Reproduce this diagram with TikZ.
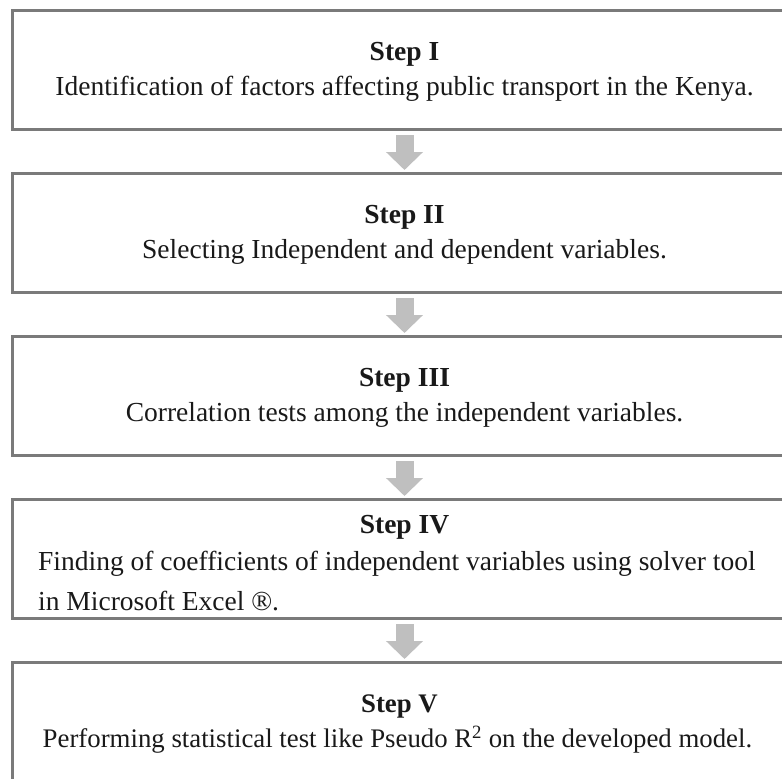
\documentclass[tikz,border=0pt]{standalone}
\usepackage{fontspec}
\setmainfont{Liberation Serif}
\usetikzlibrary{arrows.meta}
\definecolor{boxgray}{HTML}{7A7A7A}
\definecolor{arrowgray}{HTML}{BFBFBF}
\tikzset{
  stepbox/.style={draw=boxgray, line width=3bp, minimum width=784bp, minimum height=119bp, inner sep=0pt, anchor=north west},
  ttl/.style={anchor=base, font=\fontsize{27.5bp}{33bp}\selectfont\bfseries, inner sep=0pt, text=black!90},
  bodytxt/.style={anchor=base, font=\fontsize{27.5bp}{33bp}\selectfont, inner sep=0pt, text=black!90},
  flow/.style={line width=18bp, draw=arrowgray, fill=arrowgray, -{Triangle[width=36bp,length=18bp]}}
}
\begin{document}
\begin{tikzpicture}[x=1bp,y=-1bp]
\useasboundingbox (0,0) rectangle (782,779);
\clip (0,0) rectangle (782,779);
\node[stepbox] (b1) at (11,9) {};
\node[stepbox] (b2) at (11,172) {};
\node[stepbox] (b3) at (11,335) {};
\node[stepbox] (b4) at (11,498) {};
\node[stepbox, minimum height=140bp] (b5) at (11,661) {};

\node[ttl] (t1) at ([yshift=-51bp]b1.north) {Step I};
\node[bodytxt] (s1) at ([yshift=-86bp]b1.north) {Identification of factors affecting public transport in the Kenya.};
\node[ttl] (t2) at ([yshift=-51bp]b2.north) {Step II};
\node[bodytxt] (s2) at ([yshift=-86bp]b2.north) {Selecting Independent and dependent variables.};
\node[ttl] (t3) at ([yshift=-51bp]b3.north) {Step III};
\node[bodytxt] (s3) at ([yshift=-86bp]b3.north) {Correlation tests among the independent variables.};
\node[ttl] (t4) at ([yshift=-35bp]b4.north) {Step IV};
\node[bodytxt, anchor=base west] (s4a) at (38,570) {Finding of coefficients of independent variables using solver tool};
\node[bodytxt, anchor=base west] (s4b) at (38,610) {in Microsoft Excel ®.};
\node[ttl, font=\fontsize{26.8bp}{33bp}\selectfont\bfseries] (t5) at ([xshift=-5bp,yshift=-51bp]b5.north) {Step V};
\node[bodytxt, font=\fontsize{26.8bp}{33bp}\selectfont] (s5) at ([xshift=-7bp,yshift=-86bp]b5.north) {Performing statistical test like Pseudo R\textsuperscript{2} on the developed model.};

\draw[flow] ([yshift=-4bp]b1.south) -- ([yshift=2bp]b2.north);
\draw[flow] ([yshift=-4bp]b2.south) -- ([yshift=2bp]b3.north);
\draw[flow] ([yshift=-4bp]b3.south) -- ([yshift=2bp]b4.north);
\draw[flow] ([yshift=-4bp]b4.south) -- ([yshift=2bp]b5.north);
\end{tikzpicture}
\end{document}
